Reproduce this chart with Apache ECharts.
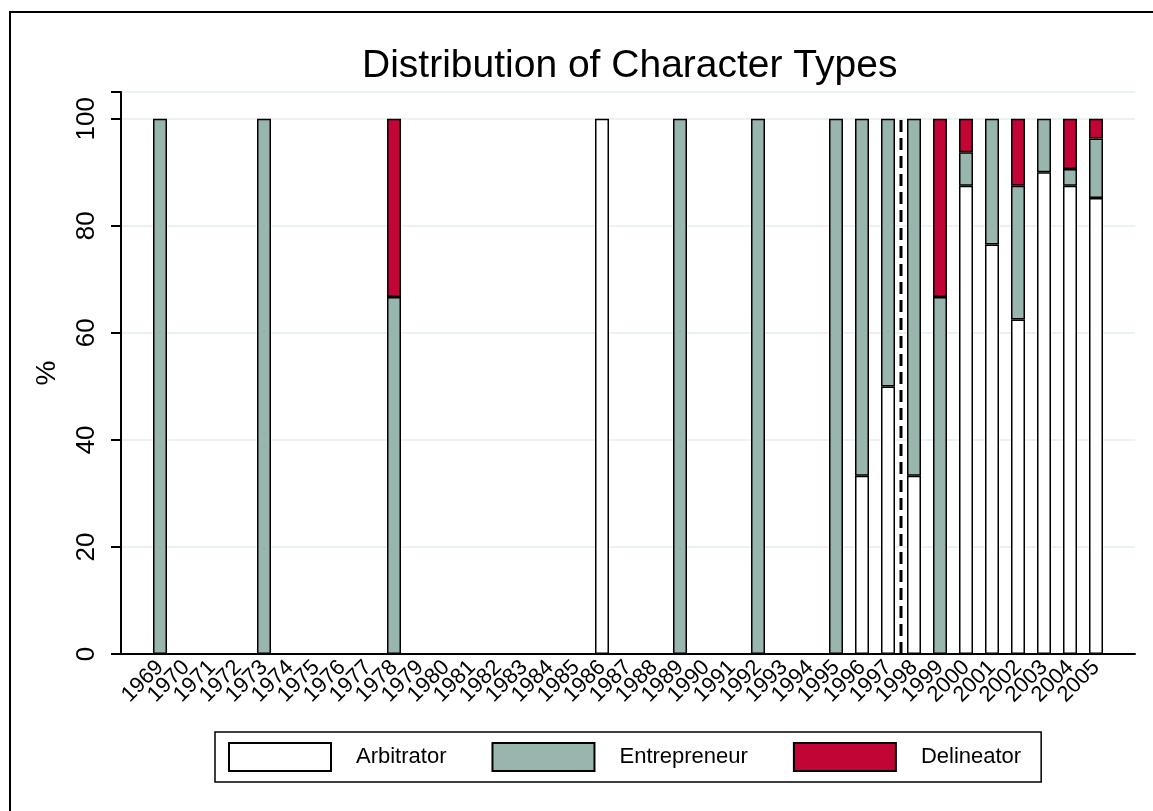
<!DOCTYPE html>
<html>
<head>
<meta charset="utf-8">
<script src="https://cdn.jsdelivr.net/npm/echarts@6/dist/echarts.min.js"></script>
<style>
html,body{margin:0;padding:0;background:#fff;}
#chart{width:1153px;height:811px;}
</style>
</head>
<body>
<div id="chart"></div>
<script>
var years = ['1969','1970','1971','1972','1973','1974','1975','1976','1977','1978',
  '1979','1980','1981','1982','1983','1984','1985','1986','1987','1988',
  '1989','1990','1991','1992','1993','1994','1995','1996','1997','1998',
  '1999','2000','2001','2002','2003','2004','2005'];
var arbitrator   = [0,0,0,0,0,0,0,0,0,0, 0,0,0,0,0,0,0,100,0,0, 0,0,0,0,0,0,0,33.3,50,33.3, 0,87.5,76.5,62.5,90,87.5,85.2];
var entrepreneur = [100,0,0,0,100,0,0,0,0,66.7, 0,0,0,0,0,0,0,0,0,0, 100,0,0,100,0,0,100,66.7,50,66.7, 66.7,6.25,23.5,25,10,3.1,11.1];
var delineator   = [0,0,0,0,0,0,0,0,0,33.3, 0,0,0,0,0,0,0,0,0,0, 0,0,0,0,0,0,0,0,0,0, 33.3,6.25,0,12.5,0,9.4,3.7];
var yTicks = [0,20,40,60,80,100];
var dividerAfter = '1997';

var cats = [''].concat(years).concat(['']);
function pad(arr){ return ['-'].concat(arr.map(function(v){return v===0?'-':v;})).concat(['-']); }
var divIdx = cats.indexOf(dividerAfter) + 1; // boundary after this category

var chart = echarts.init(document.getElementById('chart'), null, {renderer:'canvas'});
var font = 'Liberation Sans, Arial, Helvetica, sans-serif';
var barStyle = function(c){ return {color:c, borderColor:'#000', borderWidth:1.5}; };
chart.setOption({
  animation:false,
  backgroundColor:'#fff',
  textStyle:{fontFamily:font, color:'#000'},
  title:{text:'Distribution of Character Types', left:357, top:42,
    textStyle:{fontFamily:font, fontSize:39, fontWeight:'normal', color:'#000'}},
  graphic:[{type:'rect', shape:{x:10,y:12,width:1200,height:900},
    style:{fill:'none', stroke:'#000', lineWidth:2}, silent:true}],
  legend:{left:215, top:732, orient:'horizontal', icon:'rect',
    itemWidth:102, itemHeight:28, itemGap:45,
    padding:[10,20,10,13], borderColor:'#000', borderWidth:1.5,
    textStyle:{fontFamily:font, fontSize:22, color:'#000', padding:[0,0,0,20]},
    data:['Arbitrator','Entrepreneur','Delineator']},
  grid:{left:121, right:18, top:92, bottom:157},
  xAxis:[{type:'category', data:cats, boundaryGap:true,
    axisLine:{lineStyle:{color:'#000', width:2}},
    axisTick:{show:false},
    axisLabel:{interval:0, rotate:45, fontSize:22, color:'#000', margin:10, fontFamily:font}},
   {type:'value', min:0, max:cats.length, show:false}],
  yAxis:{type:'value', min:0, max:105, interval:20,
    name:'%', nameLocation:'middle', nameGap:60, nameRotate:90,
    nameTextStyle:{fontSize:28, color:'#000', fontFamily:font},
    axisLine:{show:true, lineStyle:{color:'#000', width:2}},
    axisTick:{show:true, length:10, lineStyle:{color:'#000', width:2}},
    axisLabel:{rotate:90, fontSize:26, color:'#000', margin:21, fontFamily:font,
      formatter:function(v){ return yTicks.indexOf(v)>=0 ? String(v) : ''; }},
    splitLine:{show:true, lineStyle:{color:'#eaf2f3', width:2}}},
  series:[
    {name:'Arbitrator', type:'bar', stack:'s', barWidth:14, data:pad(arbitrator), itemStyle:barStyle('#ffffff')},
    {name:'Entrepreneur', type:'bar', stack:'s', barWidth:14, data:pad(entrepreneur), itemStyle:barStyle('#98b5ae')},
    {name:'Delineator', type:'bar', stack:'s', barWidth:14, data:pad(delineator), itemStyle:barStyle('#c10534')},
    {name:'divider', type:'line', xAxisIndex:1, symbol:'none', silent:true,
      data:[[divIdx,0],[divIdx,100]],
      lineStyle:{color:'#000', width:3, type:[12,6]}}
  ]
});
</script>
</body>
</html>
